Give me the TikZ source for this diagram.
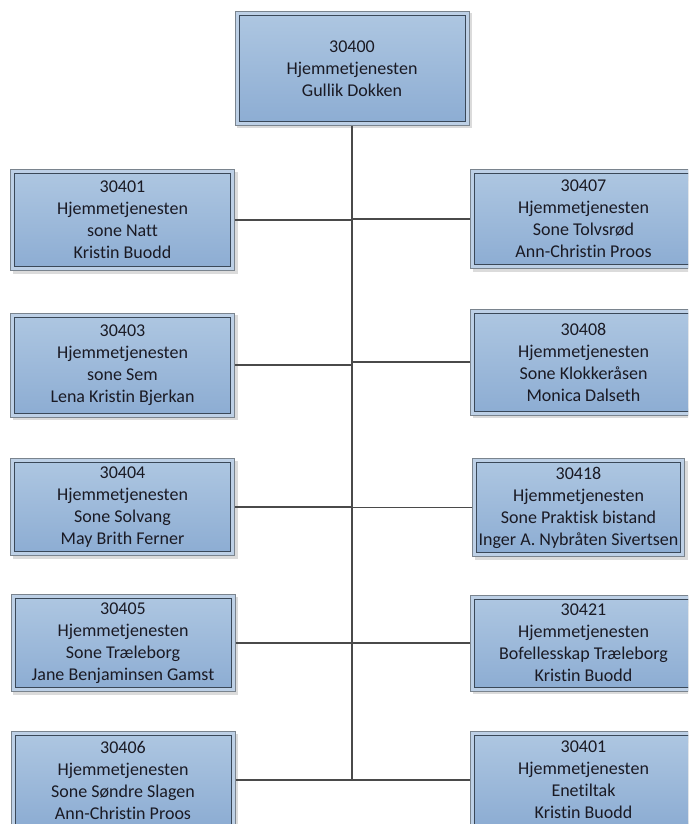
\documentclass[tikz,border=0pt]{standalone}
\usepackage{fontspec}
\setmainfont{Carlito}[Ligatures=NoCommon]
\definecolor{framegray}{HTML}{7A848E}
\definecolor{ringblue}{HTML}{BDD0E6}
\definecolor{innerline}{HTML}{3A4858}
\definecolor{filltop}{HTML}{ADC6E1}
\definecolor{fillbot}{HTML}{8DADD3}
\definecolor{linegray}{HTML}{4A4A4A}
\definecolor{txt}{HTML}{1A1A24}
\definecolor{shadowc}{HTML}{C4C4C4}
\tikzset{
  orgbox/.style={rectangle, draw=innerline, line width=0.9pt,
    top color=filltop, bottom color=fillbot, text=txt, align=center,
    font=\fontsize{18}{22}\selectfont, inner sep=0pt, outer sep=4.5pt,
    preaction={draw=shadowc, fill=shadowc, line width=9pt, opacity=0.6,
      transform canvas={shift={(2.5pt,-2.5pt)}}},
    preaction={draw=framegray, line width=9pt},
    preaction={draw=ringblue, line width=7pt}},
  leftbox/.style={orgbox, minimum width=216pt},
  rightbox/.style={orgbox, minimum width=218pt},
  conn/.style={draw=linegray, line width=1.9pt}
}
\begin{document}
\begin{tikzpicture}[x=1pt,y=-1pt]
\useasboundingbox (0,0) rectangle (688,824);
\clip (0,0) rectangle (688,824);
\fill[white] (0,0) rectangle (688,824);

\node[orgbox, minimum width=226pt, minimum height=106pt] (top) at (352,68.5)
  {30400\\Hjemmetjenesten\\Gullik Dokken};

\node[leftbox, minimum height=93pt] (L1) at (122.5,220)
  {30401\\Hjemmetjenesten\\sone Natt\\Kristin Buodd};
\node[leftbox, minimum height=96pt] (L2) at (122.5,365)
  {30403\\Hjemmetjenesten\\sone Sem\\Lena Kristin Bjerkan};
\node[leftbox, minimum height=89pt] (L3) at (122.5,507)
  {30404\\Hjemmetjenesten\\Sone Solvang\\May Brith Ferner};
\node[leftbox, minimum height=89pt] (L4) at (123,643)
  {30405\\Hjemmetjenesten\\Sone Træleborg\\Jane Benjaminsen Gamst};
\node[leftbox, minimum height=89pt] (L5) at (123,780)
  {30406\\Hjemmetjenesten\\Sone Søndre Slagen\\Ann-Christin Proos};

\node[rightbox, minimum height=91pt] (R1) at (583.5,219)
  {30407\\Hjemmetjenesten\\Sone Tolvsrød\\Ann-Christin Proos};
\node[rightbox, minimum height=98pt] (R2) at (583.5,362)
  {30408\\Hjemmetjenesten\\Sone Klokkeråsen\\Monica Dalseth};
\node[orgbox, minimum width=204pt, minimum height=90pt] (R3) at (578.5,507.5)
  {30418\\Hjemmetjenesten\\Sone Praktisk bistand\\Inger A. Nybråten Sivertsen};
\node[rightbox, minimum height=88pt] (R4) at (583.5,643)
  {30421\\Hjemmetjenesten\\Bofellesskap Træleborg\\Kristin Buodd};
\node[rightbox, minimum height=89pt] (R5) at (583.5,780)
  {30401\\Hjemmetjenesten\\Enetiltak\\Kristin Buodd};

\coordinate (bot) at (352,780);
\draw[conn] (top.south) -- (bot);
\foreach \n in {L1,L2,L3,L4,L5} {
  \draw[conn] (\n.east) -- (\n.east -| top.south);
}
\foreach \n in {R1,R2,R3,R4,R5} {
  \draw[conn] (\n.west) -- (\n.west -| top.south);
}
\end{tikzpicture}
\end{document}
